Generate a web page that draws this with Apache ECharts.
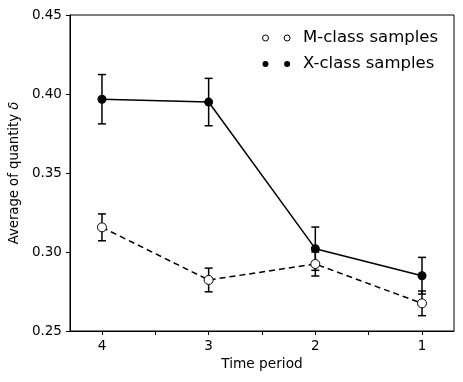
<!DOCTYPE html>
<html>
<head>
<meta charset="utf-8">
<script src="https://cdn.jsdelivr.net/npm/echarts@6/dist/echarts.min.js"></script>
<style>
  html, body { margin: 0; padding: 0; background: #fff; }
  #chart { width: 463px; height: 382px; }
</style>
</head>
<body>
<div id="chart"></div>
<script>
// time periods (x) and the two sample classes
var periods = [4, 3, 2, 1];
var mMean = [0.3156, 0.2823, 0.2924, 0.2675];
var mErr = [0.0085, 0.0075, 0.0076, 0.0078];
var xMean = [0.3967, 0.3949, 0.3021, 0.2850];
var xErr = [0.0156, 0.0150, 0.0137, 0.0116];
var yTicks = [0.25, 0.30, 0.35, 0.40, 0.45];
var xMinorTicks = [1, 1.5, 2, 2.5, 3, 3.5, 4];

var font = 'DejaVu Sans';

function pairs(means) {
    return periods.map(function (p, i) { return [p, means[i]]; });
}
function errData(means, errs) {
    return periods.map(function (p, i) { return [p, means[i], errs[i]]; });
}

// error bars with caps
function renderErr(params, api) {
    var x = api.value(0), y = api.value(1), e = api.value(2);
    var top = api.coord([x, y + e]);
    var bot = api.coord([x, y - e]);
    var w = 4;
    var st = {stroke: '#000', lineWidth: 1.5};
    return {
        type: 'group',
        children: [
            {type: 'line', shape: {x1: top[0], y1: top[1], x2: bot[0], y2: bot[1]}, style: st},
            {type: 'line', shape: {x1: top[0] - w, y1: top[1], x2: top[0] + w, y2: top[1]}, style: st},
            {type: 'line', shape: {x1: bot[0] - w, y1: bot[1], x2: bot[0] + w, y2: bot[1]}, style: st}
        ]
    };
}

var chart = echarts.init(document.getElementById('chart'));

var twoDots = 'path://M0,3a3,3 0 1,0 6,0a3,3 0 1,0 -6,0zM21.6,3a3,3 0 1,0 6,0a3,3 0 1,0 -6,0z';

var option = {
    animation: false,
    textStyle: {fontFamily: font, color: '#000'},
    grid: {
        left: 68, right: 9, top: 15, bottom: 51,
        show: true, borderColor: '#000', borderWidth: 1
    },
    legend: {
        orient: 'vertical',
        left: 257,
        top: 24,
        itemWidth: 27.6,
        itemHeight: 6,
        itemGap: 8,
        textStyle: {fontFamily: font, fontSize: 16.5, color: '#000', lineHeight: 18, padding: [0, 0, 0, 8]},
        data: [
            {name: 'M-class samples', icon: twoDots, itemStyle: {color: '#fff', borderColor: '#000', borderWidth: 1}},
            {name: 'X-class samples', icon: twoDots, itemStyle: {color: '#000', borderColor: '#000', borderWidth: 0}}
        ]
    },
    xAxis: {
        type: 'value',
        min: 0.7,
        max: 4.3,
        inverse: true,
        name: 'Time period',
        nameLocation: 'middle',
        nameGap: 14,
        nameTextStyle: {fontFamily: font, fontSize: 13.7, color: '#000'},
        axisLine: {show: true, lineStyle: {color: '#000', width: 1}},
        axisTick: {show: true, length: 4, customValues: xMinorTicks, lineStyle: {color: '#000'}},
        axisLabel: {
            customValues: periods,
            margin: 8,
            fontFamily: font, fontSize: 13.5, color: '#000',
            formatter: function (v) { return String(v); }
        },
        splitLine: {show: false}
    },
    yAxis: {
        type: 'value',
        min: yTicks[0],
        max: yTicks[yTicks.length - 1],
        interval: 0.05,
        name: '{n|Average of quantity }{d|δ}',
        nameLocation: 'middle',
        nameGap: 47,
        nameTextStyle: {
            rich: {
                n: {fontFamily: font, fontSize: 13.2, color: '#000'},
                d: {fontFamily: font, fontSize: 13.2, fontStyle: 'italic', color: '#000'}
            }
        },
        axisLine: {show: true, lineStyle: {color: '#000', width: 1}},
        axisTick: {show: true, length: 4, lineStyle: {color: '#000'}},
        axisLabel: {
            margin: 8,
            fontFamily: font, fontSize: 13.5, color: '#000',
            formatter: function (v) { return v.toFixed(2); }
        },
        splitLine: {show: false}
    },
    series: [
        {
            name: 'M err',
            type: 'custom',
            renderItem: renderErr,
            data: errData(mMean, mErr),
            z: 1,
            silent: true
        },
        {
            name: 'X err',
            type: 'custom',
            renderItem: renderErr,
            data: errData(xMean, xErr),
            z: 1,
            silent: true
        },
        {
            name: 'M-class samples',
            type: 'line',
            data: pairs(mMean),
            symbol: 'circle',
            symbolSize: 9,
            showAllSymbol: true,
            lineStyle: {color: '#000', width: 1.5, type: [6, 4]},
            itemStyle: {color: '#fff', borderColor: '#000', borderWidth: 1},
            z: 2
        },
        {
            name: 'X-class samples',
            type: 'line',
            data: pairs(xMean),
            symbol: 'circle',
            symbolSize: 9,
            showAllSymbol: true,
            lineStyle: {color: '#000', width: 1.5},
            itemStyle: {color: '#000', borderColor: '#000', borderWidth: 0},
            z: 3
        }
    ]
};

chart.setOption(option);
</script>
</body>
</html>
